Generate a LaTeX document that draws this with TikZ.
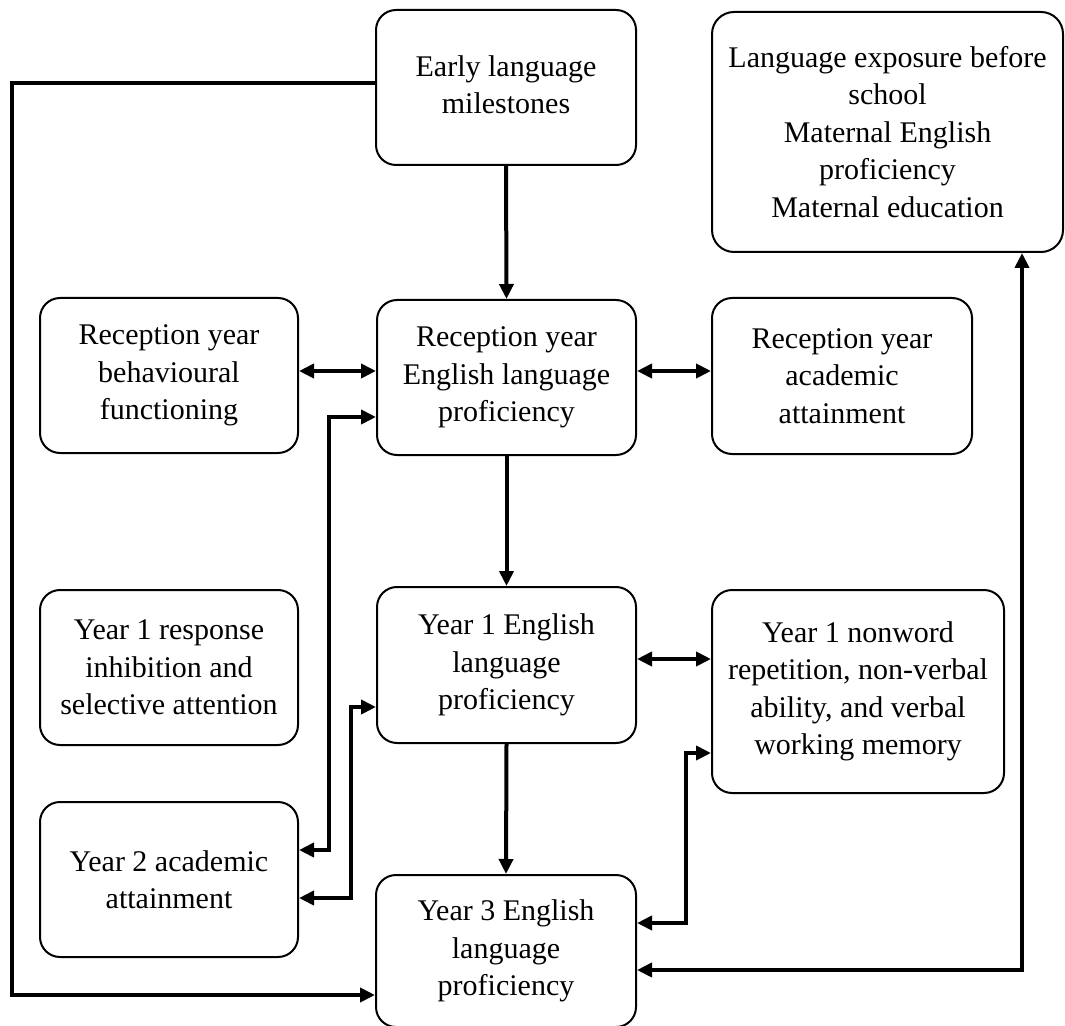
\documentclass[tikz,border=0pt]{standalone}
\usepackage{fontspec}
\setmainfont{Liberation Serif}
\usetikzlibrary{arrows.meta,calc}
\begin{document}
\begin{tikzpicture}[x=0.5pt,y=-0.5pt,
  box/.style={draw,line width=1pt,rounded corners=10pt,align=center,inner sep=0pt,
    font=\fontsize{15pt}{18.75pt}\selectfont},
  conn/.style={line width=2pt},
  tip/.style={-{Triangle[length=7.5pt,width=7pt]}},
  dtip/.style={{Triangle[length=7.5pt,width=7pt]}-{Triangle[length=7.5pt,width=7pt]}}]
\useasboundingbox (0,0) rectangle (1065,1026);
\node[box,minimum width=130pt,minimum height=77.5pt] (early) at (506,87.5) {Early language\\milestones\\[-16pt]};
\node[box,rounded corners=11pt,minimum width=175.5pt,minimum height=120pt] (lang) at (887.5,132) {Language exposure before\\school\\Maternal English\\proficiency\\Maternal education};
\node[box,minimum width=129pt,minimum height=77.5pt] (rbeh) at (169,375.5) {Reception year\\behavioural\\functioning};
\node[box,minimum width=129.5pt,minimum height=77.5pt] (reng) at (506.5,377.5) {Reception year\\English language\\proficiency};
\node[box,minimum width=130pt,minimum height=78pt] (racad) at (842,376) {Reception year\\academic\\attainment};
\node[box,minimum width=129pt,minimum height=77.5pt] (yresp) at (169,667.5) {Year 1 response\\inhibition and\\selective attention};
\node[box,minimum width=129.5pt,minimum height=78pt] (yeng) at (506.5,665) {Year 1 English\\language\\proficiency};
\node[box,minimum width=146pt,minimum height=101.5pt] (nonw) at (858,691.5) {Year 1 nonword\\repetition, non-verbal\\ability, and verbal\\working memory};
\node[box,minimum width=129pt,minimum height=77.5pt] (ytwo) at (169,879.5) {Year 2 academic\\attainment};
\node[box,minimum width=130pt,minimum height=76pt] (ythree) at (506,951) {Year 3 English\\language\\proficiency};

\draw[conn,tip] (early.south) -- (reng.north);
\draw[conn,tip] (reng.south) -- (yeng.north);
\draw[conn,tip] (yeng.south) -- (ythree.north);
\draw[conn,dtip] (rbeh.east |- 0,371) -- (reng.west |- 0,371);
\draw[conn,dtip] (reng.east |- 0,371) -- (racad.west |- 0,371);
\draw[conn,dtip] (yeng.east |- 0,659) -- (nonw.west |- 0,659);
\draw[conn,tip] (early.west |- 0,83) -- (12,83) -- (12,995) -- (ythree.west |- 0,995);
\draw[conn,dtip] (ytwo.east |- 0,850) -- (329,850) -- (329,417) -- (reng.west |- 0,417);
\draw[conn,dtip] (ytwo.east |- 0,898) -- (351,898) -- (351,707) -- (yeng.west |- 0,707);
\draw[conn,dtip] (ythree.east |- 0,923) -- (686,923) -- (686,753) -- (nonw.west |- 0,753);
\draw[conn,dtip] (ythree.east |- 0,970) -- (1022,970) -- (lang.south -| 1022,0);
\end{tikzpicture}
\end{document}
